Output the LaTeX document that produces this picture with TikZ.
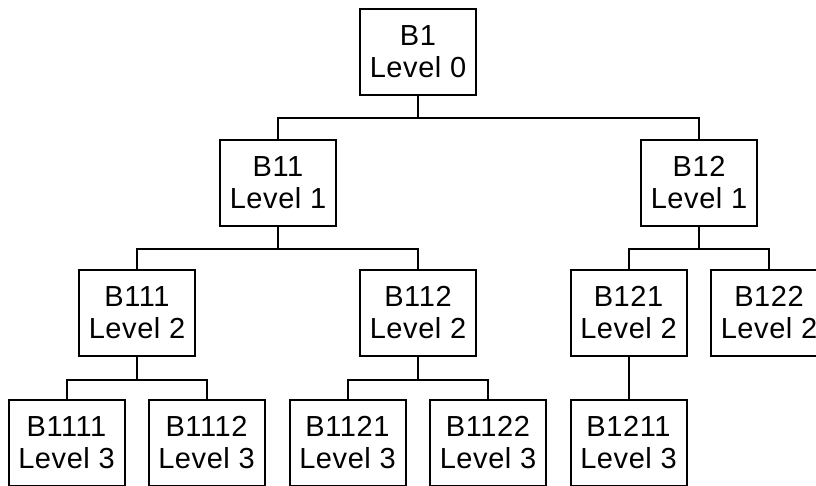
\documentclass[tikz,border=0pt]{standalone}
\usepackage{fontspec}
\setmainfont{Liberation Sans}[LetterSpace=2]
\begin{document}
\begin{tikzpicture}[x=1pt,y=-1pt,
  blk/.style={draw=black, line width=2pt, fill=white, minimum width=116pt, minimum height=86pt,
    inner sep=0pt, align=center, font=\fontsize{29}{32}\selectfont},
  link/.style={draw=black, line width=2pt}]
\path[use as bounding box, clip] (0,0) rectangle (816,485);
\fill[white] (0,0) rectangle (816,485);
\node[blk] (B1) at (418,52) {B1\\Level 0};
\node[blk] (B11) at (278,183) {B11\\Level 1};
\node[blk] (B12) at (699,183) {B12\\Level 1};
\node[blk] (B111) at (137,313) {B111\\Level 2};
\node[blk] (B112) at (418,313) {B112\\Level 2};
\node[blk] (B121) at (628.5,313) {B121\\Level 2};
\node[blk] (B122) at (769,313) {B122\\Level 2};
\node[blk] (B1111) at (66.5,443) {B1111\\Level 3};
\node[blk] (B1112) at (206.5,443) {B1112\\Level 3};
\node[blk] (B1121) at (347.5,443) {B1121\\Level 3};
\node[blk] (B1122) at (488,443) {B1122\\Level 3};
\node[blk] (B1211) at (628.5,443) {B1211\\Level 3};
\draw[link] (B1.south) -- ++(0,22) -| (B11.north);
\draw[link] (B1.south) -- ++(0,22) -| (B12.north);
\draw[link] (B11.south) -- ++(0,22) -| (B111.north);
\draw[link] (B11.south) -- ++(0,22) -| (B112.north);
\draw[link] (B12.south) -- ++(0,22) -| (B121.north);
\draw[link] (B12.south) -- ++(0,22) -| (B122.north);
\draw[link] (B111.south) -- ++(0,23) -| (B1111.north);
\draw[link] (B111.south) -- ++(0,23) -| (B1112.north);
\draw[link] (B112.south) -- ++(0,23) -| (B1121.north);
\draw[link] (B112.south) -- ++(0,23) -| (B1122.north);
\draw[link] (B121.south) -- (B1211.north);
\end{tikzpicture}
\end{document}
